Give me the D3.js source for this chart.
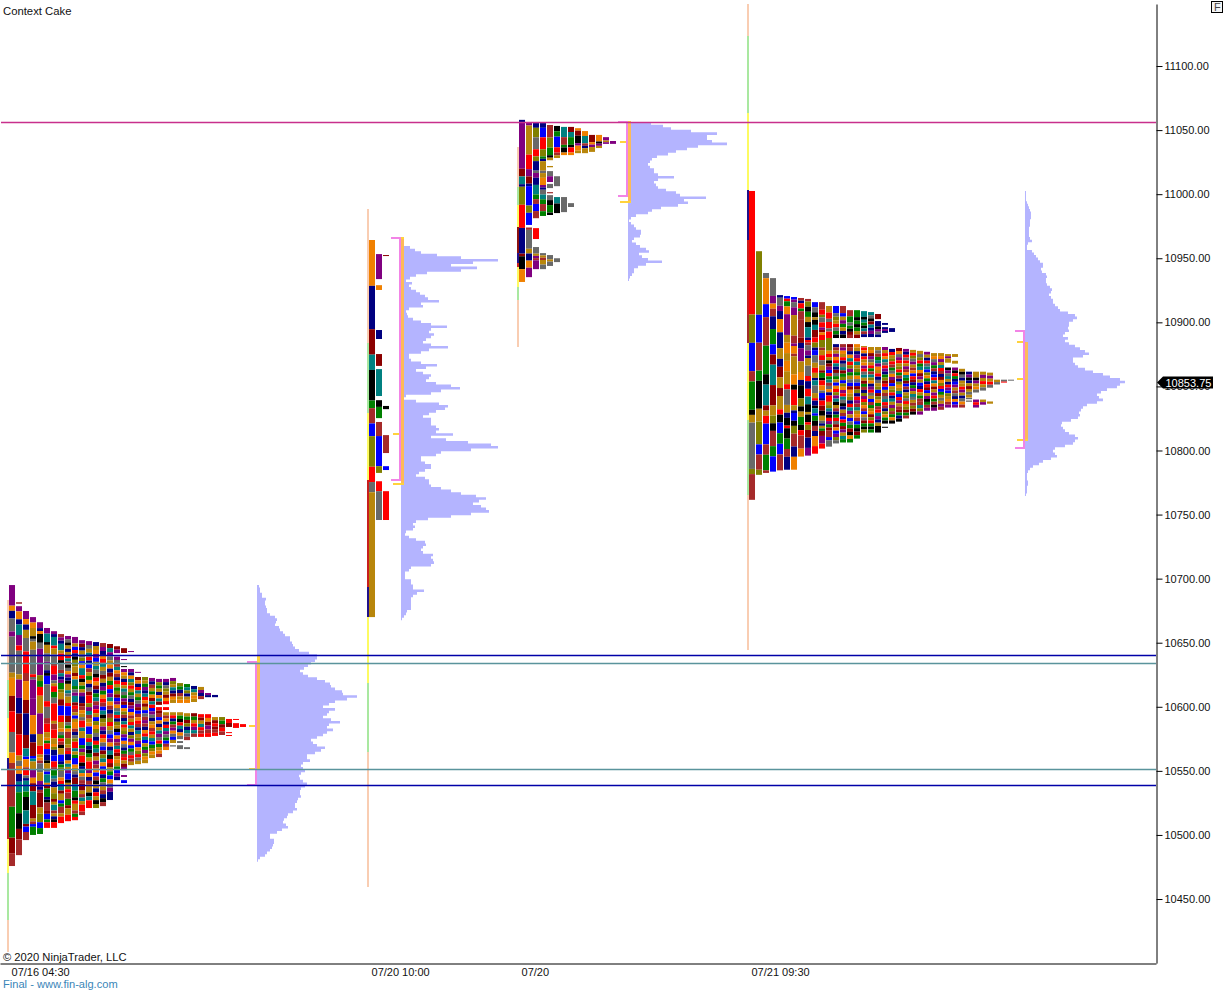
<!DOCTYPE html>
<html><head><meta charset="utf-8">
<script src="https://cdn.jsdelivr.net/npm/d3@7"></script>
<style>html,body{margin:0;padding:0;background:#fff}svg{display:block}text{font-family:"Liberation Sans",Arial,sans-serif}</style>
</head><body><div id="c"></div>
<script>
const priceTicks=[11100,11050,11000,10950,10900,10850,10800,10750,10700,10650,10600,10550,10500,10450];
const timeLabels=["07/16 04:30","07/20 10:00","07/20","07/21 09:30"];
const sessionSlots=[0,51.43,72.86,105.71];
const profileSlots=[35.43,56,88.43,145.14];
const profileTops=[10695,10959.5,11056.25,11002.5];
const lastPrice=10853.75;
const levelLines=[[11056,"#c8308c"],[10640.4,"#0000a8"],[10634.2,"#5a949c"],[10551.4,"#5a949c"],[10539,"#0000a8"]];
// value-area brackets per session: yellow top, yellow bottom, pink top, pink bottom, point of control
const valueAreas=[[10639.5,10551.4,10634.9,10539,10585],[10965.7,10773.8,10965.7,10776.9,10813],[11056.3,10993.9,11056.3,10998.5,11040.7],[10884.6,10808.2,10893.3,10801.9,10855.7]];
const palette={p:"#800080",o:"#f08000",n:"#000080",d:"#8b0000",t:"#008080",k:"#000000",g:"#008000",w:"#a52a2a",v:"#808000",b:"#0000ff",r:"#ff0000",y:"#696969",h:"#b8860b"};
const railPalette={P:"#f9cdb2",G:"#a9e8a0",Y:"#fdfb62",R:"#c81e1e",N:"#20108a",D:"#8b1010",W:"#a52a2a"};
const rails=[
 [[10683.3,10620.9,"P"],[10620.9,10591.2,"G"],[10591.2,10560,"Y"],[10560,10550.6,"N"],[10550.6,10496.7,"R"],[10496.7,10470.2,"Y"],[10470.2,10433.6,"G"],[10433.6,10408.6,"P"]],
 [[10988.4,10883.8,"P"],[10883.8,10829.2,"G"],[10829.2,10776.9,"Y"],[10776.9,10693.4,"R"],[10693.4,10670,"N"],[10670,10618.5,"Y"],[10618.5,10564.6,"G"],[10564.6,10459.3,"P"]],
 [[11036.8,11005.5,"P"],[11005.5,10991.5,"G"],[10991.5,10974.3,"Y"],[10974.3,10954,"D"],[10954,10946.2,"N"],[10946.2,10943.1,"R"],[10943.1,10927.5,"Y"],[10927.5,10917.4,"G"],[10917.4,10880.7,"P"]],
 [[11148.4,11123.4,"P"],[11123.4,11063.3,"G"],[11063.3,11003.2,"Y"],[11003.2,10964.2,"N"],[10964.2,10905.7,"R"],[10905.7,10883.8,"W"],[10883.8,10823.7,"Y"],[10823.7,10765.2,"G"],[10765.2,10644.3,"P"]]
];
// TPO blocks: [column, top price, bottom price, colour runs]
const s1Blocks=[
[0,10695,10475.75,"p8o2n3y5p2y14h2o7d6r8y8o4w17g12d6w5"],
[1,10681.5,10680.5,"d"],
[1,10678.5,10484.25,"p2o3n2t4p4r2y9h2p7n6d8r8h2y2o3n3t4g8k6d4w6"],
[2,10674.75,10496,"p3o2n2h3y5r8w3o7d5n8d5t3b1o3w1r2y1n1t4g2k5t5d1b2w3"],
[3,10670,10500,"p2o2h3k1y1h3y9r1y1p7p6o7n3d5b1t1h3p3o2d3t5d5h1w1b1g3"],
[4,10666,10500.75,"p2n1o1k3y2p9v2g2r3h6p7h4r3h1o1w1y3h3p2n1w1d5h2v3b2g2"],
[5,10661.5,10505.5,"p2t3k1h3y3p1y2n1k1b3y6r2y4w2r3h2o1g1r2b2n2k1h2y1b1t3o1d1g3n1k1w3d1b2g1r2"],
[6,10659,10505.5,"p1n1t3r1h2y3w1r3p2y1h1r2g2y2r6h1w2r3h2o1v1n2b2r2w1g2t1y1n2h2v2d1h1t2w1h1n1k1r2"],
[7,10656.75,10509.25,"w1p1n1t2h1r2k1y2w1t1n1p1g2v1h2d2b3r2h2o1y1g1r1w1k1h2b2n1g1v1y2o1r1t2d1h2b1g1w2h1r2"],
[8,10655.25,10510.75,"p1y1k1h1n1h1r1t1w1k1y1o1p1n1k1h2t1y1h2r1b3d2y1g1o1w2v2h1w1r1n2o1t1h1p1b2k1h1v1r1w2g2d1h2r2"],
[9,10654.5,10511.5,"p2h1b1r1n1k1v2h2d1o1t2g1y1p1t2d1r1w1h1b1h1o2w1n1y1v1r2t1h1g1b2o1h1y1n1d2t2g2k1r1h2w1g1r1"],
[10,10652,10515.5,"p1d1n1h1y1v1b1o1t2r1k1h1g1h1p1n2d1w1o1h1y1r2t1h2b2g1p1v1r2k1n1t1o1y1w1d2h1w1t1h1r2w1"],
[11,10651.25,10521,"p1y1h1t1r1n1b1w1h1g1o1n1y1d1r2v1p1t1w1h1o1b2v1r1t1n1k1g1h1r2p1o1n1w1h2k1t1r2"],
[12,10650.5,10521,"n1h1o1p1b1h1t1y1k1r1o1d1n1g1t1w1p1r1h1b1v1o1v1y1n1r1g1t1d1h1p1w1o1b1w1k1h1n1r1h1k1v1"],
[13,10649.75,10522.5,"w1p1n1o1r1t1h1y1d1h1n1p1g1o1r1w1b1t1k1v1h1p1n1r1o1y1b1d1v1t1o1b1r1n1g1y1h1w1n1k1w1"],
[14,10649,10527.25,"d1t1p1y1h1o1n1d1h1g1r1b1p1t1o1w1n1w1v1r1h1y1b1p1o1n1t1k1r1d1h1g1b1o1y1p1n2"],
[15,10647.25,10542.75,"d1p1.1p1y1w1t1o1w1n1r1h1g1v1d1b1p1o1y1t1r1n1v1h1k1b1o1p1w1t1r1d1h1o1h1g1b1p1n1"],
[16,10645.75,10642,"d"],
[16,10637.25,10636.5,"p"],
[16,10631.75,10631,"k"],
[16,10629.5,10550.5,"p1o1h1n1r1h1t1y1g1p1d1b1o1v1w1n1t1r1h1v1p1b1o1y1n1g1w1r1h1d1p1"],
[16,10546.75,10545.25,"p"],
[16,10542.75,10540.5,"b"],
[17,10643.5,10642.75,"p"],
[17,10629.5,10554.5,"p1n1o1t1v1r1h1g1y1n1d1p1b1o1w1h1r1t1h1n1v1p1o1b1g1y1r1w1h1"],
[18,10627.25,10626.5,"p"],
[18,10623.25,10555.25,"d1o1n1r1t1h1g1y1p1d1b1w1o1r1w1n1t1h1v1p1b1o1v1r1y1h1"],
[19,10623.25,10556,"v1h1g1p1n1t1r1o1d1h1b1y1w1p1w1n1o1r1t1b1h1g1p1v1o1h1"],
[20,10622.5,10560,"p1n1w1h1g1o1d1t1r1b1p1y1n1h1o1w1r1h1t1b1g1v1o1h1"],
[21,10621.75,10601.5,"p1v1g1h1n1o1t1d1"],
[21,10599.75,10560.75,"r1d1w1b1o1n1h1t1p1y1r1g1h1o1w1"],
[22,10621.75,10602,"p1n1y1v1h1d1o1r1"],
[22,10599.75,10597.5,"r"],
[22,10595.75,10566.25,"h1w1o1n1r1t1p1y1g1b1w1o1"],
[23,10622.5,10603,"p1v1h1t1n1d1o1h1"],
[23,10595.75,10571.75,"h1r1n1g1w1p1o1y1b1h1"],
[23,10570,10569,"y"],
[24,10618.5,10603,"v1g1n1w1h1o1"],
[24,10595.75,10574.75,"h1g1k1r1t1n1o1y1"],
[24,10573.25,10571.75,"y"],
[24,10570,10567,"y"],
[25,10617.75,10603,"g1t1v1n1h1o1"],
[25,10595,10574,"h1g1d1v1n1t1y1w1"],
[25,10568.5,10567,"y"],
[26,10616.25,10603.75,"n1t1h1o1h1"],
[26,10595,10576.5,"d1g1h1r1p1t1w1"],
[27,10615.5,10606,"h1p1n1w1"],
[27,10594.25,10576.5,"r1d1h1t1r1w1r1"],
[28,10610.75,10607.5,"p1n1"],
[28,10594.25,10576.5,"r1o1d1p1w1r1"],
[29,10609.25,10607.5,"n"],
[29,10592,10577.25,"h1d1r1d1w1r1"],
[30,10592,10578,"v1g1d1r1w1"],
[31,10590.5,10584.25,"r1d1"],
[31,10580.25,10579.5,"r"],
[31,10578,10577.25,"r"],
[32,10590.5,10589.75,"r"],
[32,10587.25,10583.5,"r"],
[33,10586.5,10584.25,"r"]
];
const s2Blocks=[
[0,10964.25,10670,"o18n17d10t6k12g3w6b5v12r6y4h49"],
[1,10953.25,10933.75,"p"],
[1,10929,10925.25,"o"],
[1,10894,10887,"n"],
[1,10875.25,10866,"d"],
[1,10863.5,10842.5,"t"],
[1,10839.25,10834,"k"],
[1,10834,10825.25,"g"],
[1,10822.25,10811.25,"w"],
[1,10811.25,10787.75,"b"],
[1,10787.75,10782.5,"v"],
[1,10776,10768.25,"r"],
[1,10768.25,10745.75,"y"],
[2,10952.5,10951.75,"d"],
[2,10834.75,10832.25,"k"],
[2,10812,10798,"w"],
[2,10787.75,10784.75,"b"],
[2,10768.25,10745.75,"r"]
];
const s3Blocks=[
[0,11058,10931.5,"n1p18d3t3n1v7r9n10d1k5o5"],
[1,11055.5,10976,"p1h12r6p3d3n1b8v3b5"],
[1,10974,10935.25,"w1y8h2n3o3p4"],
[2,11055.5,10981.25,"n2v4y5r3v2n4y1p2n3t4g2w2b3w3"],
[2,10973.5,10965,"r"],
[2,10958.75,10941.5,"y3h1p1w1p4"],
[3,11055.5,10983,"n2b4r5v3g1n1h4y1h2o3p1n1y2t2g2w3g2"],
[3,10954,10941.5,"y1h1w1h2y2"],
[4,11054,11026.5,"w5v4g3k1h1"],
[4,11022,11021,"h"],
[4,11018,11014,"y"],
[4,11014,11009.5,"p"],
[4,11008,11004.75,"y"],
[4,11001.5,11000.75,"d"],
[4,10999.25,10983.75,"y2k2g3k1"],
[4,10952.5,10944,"y2h1y2"],
[5,11053.25,11028.25,"k2g2b4r2w1h1"],
[5,11014,11006.25,"y"],
[5,10997.75,10985.25,"t2k3"],
[5,10950,10947,"y"],
[6,11052.5,11030.5,"t4w3g1k2o1"],
[6,10997.75,10986,"y"],
[7,11052.5,11030.5,"d2t2g3k1r2o1"],
[7,10993,10990,"y"],
[8,11051.5,11032,"o1d2k3p1o2h1"],
[9,11049.25,11032,"o2t3w1n1h2"],
[10,11046.25,11033,"d3o1p1h2"],
[11,11046.25,11036,"o3k1p1h1"],
[12,11044.5,11039.25,"p2h1p1"],
[13,11041.5,11039.25,"p"]
];
const s4Blocks=[
[0,11002.5,10761.5,"r48v11b11w4g11k2h3y18v2w10"],
[1,10955.5,10781,"v25b11w11g4k11h5v9b4w6v2"],
[2,10938.5,10782.5,"y2o10b5w11g11k4t8d2h2r3b8w4g6w1"],
[3,10934.5,10783.5,"y7p3o2w3n5g6b4d4t8d8h4v3k3w6g4b6"],
[4,10921.25,10784.5,"n1y3p2n3o5n6h4n3d4h4d3h5r2k3b4g4b4w6"],
[5,10920.5,10785,"b1r1g2o3p8h3o4h3o4h5r2y6h3n2k3r1k4g4w3n5"],
[6,10919.75,10785,"b1p1y2p3h8w3p1o3w1h7o4k2r6h2n1b3k2v3w5n4o5"],
[7,10919,10795.25,"w1n1r2g1w3w7d2n2p5h4o3n2k5v3k2h2g3k2r2w5o3"],
[8,10918.25,10796,"w1v2k2g2h2k2t4n1r1w1y2p2n1h3y4r2n3r3t3k3h1k3r1v2d3n4p3"],
[9,10915.75,10797.5,"b2y2k2h1k2t2d3r2v2n1b2y3h2r2h2n1t2y3h2r1n2k1t2b1g2k2w2n2o4r3"],
[10,10915.75,10801.5,"w3r2v1y2r2p1d1o1r2v3w1h2r2y2h2d1g2k1r2o2y1b2n1r2d2k2h2y1n1h1g1d2p3r2"],
[11,10912.75,10803,"h2r2y1r2y1r2v4o1r1h1k1d1p1b1r1g1t1w1y1o1n1r2h1v1t1n1k1r1p1g1d1w2b1y2"],
[12,10912.75,10887.75,"b2y1v1h1r1y1g1k1"],
[12,10883,10805.5,"n1w1h1p1o1r1t1n1d1y1g1h1b1o1r1v1p1t1k1h1w1n1g1r1y1d1o1b1p1v1y1"],
[13,10912.75,10887.75,"w2b1h1p1g1h1n1k1"],
[13,10883,10806.25,"w1p1o1h1r1n1y1t1d1g1v1b1v1o1p1r1t1y1k1n1h1w1b1r1g1d1p1h1t1g1"],
[14,10909.5,10887.75,"w2g2y1g1k1d1w1"],
[14,10883,10806.25,"d1w1n1o1t1r1v1p1g1h1y1b1d1o1h1v1n1r1t1p1h1b1y1g1d1k1o1g1"],
[15,10909.5,10887.75,"g2k1g1k1g1h1d1"],
[15,10883,10809.25,"o1h1n1p1r1t1h1v1g1o1y1b1d1v1n1r1p1w1t1h1o1w1b1g1k1d1g1"],
[16,10908.75,10888.5,"t2k1t1g1k1t1w1n1"],
[16,10881.5,10880.75,"h"],
[16,10880.5,10814,"r1o1n1r1h1o1p1r1y1t1h1d1g1w1n1v1p1r1v1o1w1b1h1y1d1g1k1v1"],
[17,10908,10888.5,"t1y1k1d1t1n1p1n1"],
[17,10880.75,10814,"h1o1d1p1y1h1r1g1w1t1v1o1n1p1r1y1h1b1w1g1h1o1d1v1r1g1k1g1"],
[18,10906.5,10902.5,"d"],
[18,10901,10888.5,"n2k1p1y1n1"],
[18,10880.75,10814,"h1y1w1g1t1p1o1h1r1n1y1h1v1b1d1v1o1g1w1r1t1p1n1h1k2"],
[19,10899.5,10898,"n"],
[19,10896.25,10891.75,"n1p1n1"],
[19,10880.75,10821,"p1h1r1o1t1y1r1p1n1g1v1d1r1b1h1w1y1t1r1w1n1v1o1g1k1"],
[19,10818.5,10817.75,"k"],
[20,10895.5,10892.5,"n"],
[20,10879.25,10821,"n1r1h1v1r1w1g1y1o1p1d1b1h1v1r1n1t1h1p1v1w1g1o1k1"],
[21,10880,10822.5,"d1o1y1p1r1h1v1r1g1w1n1v1o1h1t1b1r1p1h1w1d1g1n1k1"],
[22,10879.25,10825,"p1n1r1y1r1h1p1w1o1t1g1d1b1w1n1h1v1y1r1h1v1d1g1w1"],
[23,10878.5,10828,"h1r1v1y1p1h1w1o1b1r1d1n1g1p1h1t1y1h1w1v1d1k1"],
[24,10877.75,10828,"h1y1v1r1g1t1o1d1p1h1b1n1r1h1g1w1w1t1v1p1"],
[25,10877,10831,"p1h1n1r1y1t1b1v1o1g1n1r1d1b1h1p1k1g1w1p1"],
[26,10876,10831,"h1o1y1p1g1w1n1b1r1t1o1d1h1p1r1g1w1k1p1"],
[27,10876,10831.75,"h1o1p1h1t1r1w1n1d1o1v1r1b1g1h1y1h1p1w1"],
[28,10875.25,10868.5,"h1p1h2"],
[28,10864.75,10833.5,"k1p1y1t1h1n1r1p1b1v1h1o1w1p1"],
[29,10875.25,10873,"h"],
[29,10870,10867.75,"h"],
[29,10864.75,10833.5,"p1k1r1g1n1b1p1h1w1y1n1o1b1p1"],
[30,10863.75,10833.5,"h1k1y1n1h1h1r1p1h1n1y1o1w1"],
[31,10861.5,10841.25,"n1p1k1n1h1d1h1y1h1"],
[31,10841,10840,"y"],
[31,10839,10838,"y"],
[32,10861.5,10845.25,"h2k1p1h1o1y1"],
[32,10839.75,10833.5,"p1r1p1"],
[33,10861.5,10846.75,"h1p1h1r1h1y1"],
[33,10839.75,10835.75,"h1p1"],
[34,10860.75,10849,"h1p1h1r1y1"],
[34,10838.25,10836.5,"h"],
[35,10855.25,10851.5,"h1y1"],
[36,10855.25,10853,"y2r1"],
[37,10855.25,10854.5,"y"]
];
const allBlocks=[s1Blocks,s2Blocks,s3Blocks,s4Blocks];
// volume profiles: one value per 2-point row from the session top
const profile1=[1,2,3,3,5,5,9,8,8,9,10,10,13,18,20,19,18,22,23,26,28,33,33,35,36,38,42,52,60,60,58,54,51,47,43,46,51,60,68,73,74,78,85,86,100,90,78,72,66,78,72,70,66,74,83,72,70,76,70,66,60,54,56,60,68,64,58,50,50,53,46,44,46,48,44,42,43,46,50,48,44,43,43,44,41,40,38,38,40,36,31,30,27,26,29,31,25,20,13,13,17,17,16,15,13,10,8,3,1];
const profile2=[6,9,14,20,36,60,97,72,50,76,60,26,15,9,5,11,8,10,15,19,24,27,38,20,22,8,5,6,7,12,20,30,46,30,28,33,30,25,22,30,47,28,20,8,8,10,20,36,25,15,22,30,28,25,35,50,59,40,30,5,3,15,38,47,44,35,28,22,30,30,30,35,38,35,52,30,45,67,90,97,70,40,35,20,20,24,30,30,24,18,15,24,28,28,30,40,50,60,75,85,78,72,80,85,88,70,50,27,15,12,14,12,5,4,8,15,24,25,22,20,22,32,30,32,33,30,10,8,4,4,4,10,10,12,12,23,16,12,10,10,10,10,10,6,5,3,1];
const profile3=[3,23,35,43,63,89,79,79,84,99,70,59,48,40,29,24,22,20,22,26,26,30,46,30,26,28,30,38,48,52,78,56,60,50,33,24,20,8,3,1,3,6,8,13,13,12,6,4,8,12,18,21,11,14,20,34,18,10,6,6,4,2,1];
const profile4=[1,1,1,1,1,2,3,4,5,6,6,6,5,5,5,4,4,4,4,5,7,3,2,2,7,9,11,13,15,18,18,16,17,21,22,21,21,22,25,27,26,24,26,28,28,30,33,35,43,50,52,48,44,44,43,44,40,38,43,40,44,50,55,60,64,58,48,48,50,53,60,68,78,85,95,100,95,92,82,76,72,74,78,72,62,58,56,54,55,53,46,37,36,38,40,44,50,53,50,48,40,30,28,30,32,26,18,14,8,5,3,2,2,2,3,3,2,2,2,1];
const allProfiles=[profile1,profile2,profile3,profile4];

const W=1223,H=991;
const svg=d3.select("#c").append("svg").attr("width",W).attr("height",H);
const y=d3.scaleLinear().domain([10400,11148.4]).range([963.1,4]);
const x=d3.scaleLinear().domain([-9/7,163.857]).range([0,1156]);
const vol=d3.scaleLinear().domain([0,100]).range([0,100]);
const railsG=svg.append("g").attr("shape-rendering","crispEdges");
const tpoG=svg.append("g");
const profG=svg.append("g");
const crisp=svg.append("g").attr("shape-rendering","crispEdges");
const linesG=svg.append("g");
const R=(g,x0,x1,t,b,fill)=>g.append("rect").attr("x",Math.round(x0)).attr("width",Math.max(1,Math.round(x1)-Math.round(x0))).attr("y",Math.round(y(t))).attr("height",Math.max(1,Math.round(y(b))-Math.round(y(t)))).attr("fill",fill);

// opening range rails
rails.forEach((segs,i)=>segs.forEach(([t,b,c])=>R(railsG,x(sessionSlots[i])-2.4,x(sessionSlots[i]),t,b,railPalette[c])));
// TPO columns: fractional row edges blend like the soft reference picture
allBlocks.forEach((blocks,i)=>blocks.forEach(([col,top,bot,runs])=>{
  const toks=[...runs.matchAll(/([a-z.])(\d*)/g)].map(m=>[m[1],m[2]?+m[2]:1]);
  const tot=d3.sum(toks,d=>d[1]);
  let c=0;
  const x0=Math.round(x(sessionSlots[i]+col));
  toks.forEach(([k,n])=>{
    const t=top+(bot-top)*c/tot,b=top+(bot-top)*(c+n)/tot;c+=n;
    if(k===".")return;
    tpoG.append("rect").attr("x",x0).attr("width",6).attr("y",y(t)).attr("height",Math.max(1,y(b)-y(t))).attr("fill",palette[k]);
  });
}));
// volume profiles as stepped outlines: each value holds for its whole row
allProfiles.forEach((vals,i)=>{
  const bx=x(profileSlots[i]);
  const area=d3.area().curve(d3.curveStepAfter).x0(bx).x1(d=>bx+vol(d)).y((d,j)=>y(profileTops[i]-2*j));
  profG.append("path").attr("d",area(vals)).attr("fill","#b4b4ff");
});
// value-area brackets
valueAreas.forEach(([yt,yb,pt,pb,poc],i)=>{
  const bx=Math.round(x(profileSlots[i]));
  const Y="#ffd23c",PK="#f284e6",O="#fdba58";
  R(crisp,bx,bx+3,yt,yb,O);
  R(crisp,bx-8,bx+3,yb+0.75,yb-0.75,Y);
  R(crisp,bx-8,bx-2,poc+0.75,poc-0.75,Y);
  if(i!==3&&i!==0)R(crisp,bx-8,bx+3,yt+0.75,yt-0.75,Y);
  if(i===3)R(crisp,bx-8,bx-2,yt+0.75,yt-0.75,Y);
  if(i===0)R(crisp,bx,bx+3,yt,pt,Y);
  R(crisp,bx-2,bx,pt,pb,PK);
  R(crisp,bx-10,bx,pt+0.75,pt-0.75,PK);
  R(crisp,bx-10,bx,pb+0.75,pb-0.75,PK);
});
// level lines
levelLines.forEach(([p,c])=>linesG.append("line").attr("x1",1).attr("x2",1156).attr("y1",Math.round(y(p))+.5).attr("y2",Math.round(y(p))+.5).attr("stroke",c).attr("stroke-width",1.5));
// axes
const ya=svg.append("g").attr("transform","translate(1156.5,0)").call(d3.axisRight(y).tickValues(priceTicks).tickFormat(d3.format(".2f")).tickSizeInner(6).tickSizeOuter(0).tickPadding(2));
ya.selectAll("text").attr("font-size",11).attr("font-family","Liberation Sans").attr("fill","#111");
ya.selectAll("line,path").attr("stroke","#000");
const xa=svg.append("g").attr("transform","translate(0,963.5)").call(d3.axisBottom(x).tickValues(sessionSlots.map(s=>s+0.29)).tickFormat((d,i)=>timeLabels[i]).tickSize(0).tickPadding(3));
xa.selectAll("text").attr("font-size",11).attr("font-family","Liberation Sans").attr("text-anchor","start").attr("fill","#111").attr("dy","0.85em");
xa.selectAll("path").attr("stroke","#000");
// price tag
const ty=Math.round(y(lastPrice))+.5;
svg.append("path").attr("d",`M1157,${ty} L1163,${ty-6} H1213 V${ty+6} H1163 Z`).attr("fill","#000");
svg.append("text").attr("x",1165.5).attr("y",ty+4).attr("fill","#fff").attr("font-size",11).text(lastPrice.toFixed(2));
// labels
svg.append("text").attr("x",3).attr("y",15).attr("font-size",11.3).attr("fill","#111").text("Context Cake");
svg.append("text").attr("x",3).attr("y",961).attr("font-size",11.2).attr("fill","#111").text("© 2020 NinjaTrader, LLC");
svg.append("text").attr("x",3).attr("y",988).attr("font-size",11.1).attr("fill","#3a86b8").text("Final - www.fin-alg.com");
svg.append("rect").attr("x",1211.5).attr("y",1.5).attr("width",11).attr("height",11).attr("fill","#f4f4f4").attr("stroke","#000");
svg.append("text").attr("x",1214).attr("y",11).attr("font-size",11).attr("fill","#444").text("F");
</script></body></html>
